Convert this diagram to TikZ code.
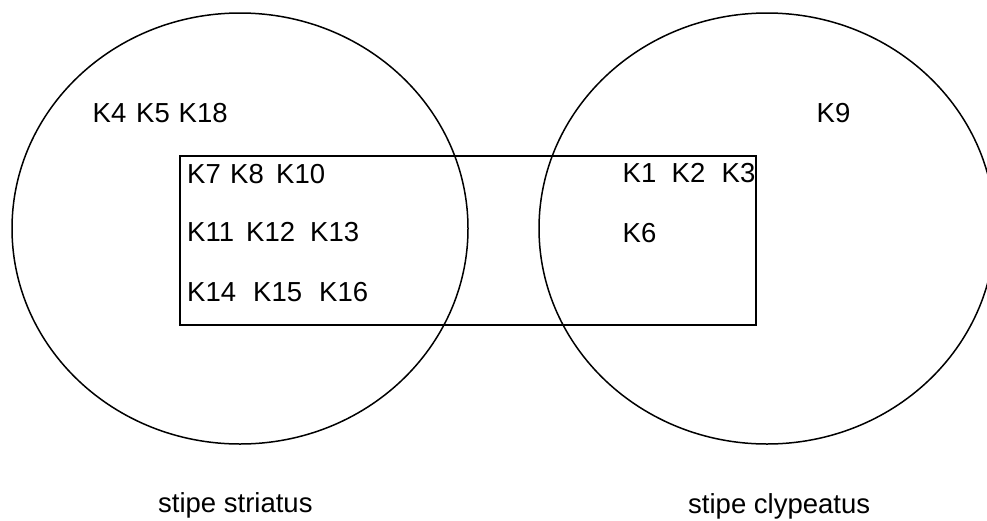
\documentclass[tikz,border=0pt]{standalone}
\usepackage{fontspec}
\setmainfont{Liberation Sans}
\usetikzlibrary{shapes.geometric}
\begin{document}
\begin{tikzpicture}[x=1pt,y=-1pt,
  setline/.style={draw=black,line width=1.5pt},
  setring/.style={setline,ellipse,inner sep=0pt,minimum width=456pt,minimum height=431pt},
  code/.style={anchor=base west,inner sep=0pt,font=\fontsize{27.5}{33}\selectfont},
  caption/.style={code}]
\useasboundingbox (0,0) rectangle (987,520);

% the two stipe groups
\node[setring] (striatus) at (240,228.5) {};
\node[setring] (clypeatus) at (767,228.5) {};
% shared block
\draw[setline] (180,156) rectangle (756,325);

% codes only in the striatus group
\node[code] (k4) at (92.5,122) {K4};
\node[code] (k5) at (136,122) {K5};
\node[code] (k18) at (178.5,122) {K18};

% codes in the block, striatus side
\node[code] (k7) at (187,183) {K7};
\node[code] (k8) at (230,183) {K8};
\node[code] (k10) at (276,183) {K10};
\node[code] (k11) at (187,241) {K11};
\node[code] (k12) at (246,241) {K12};
\node[code] (k13) at (310,241) {K13};
\node[code] (k14) at (187,301) {K14};
\node[code] (k15) at (253,301) {K15};
\node[code] (k16) at (319,301) {K16};

% codes in the block, clypeatus side
\node[code] (k1) at (622.5,182) {K1};
\node[code] (k2) at (671.5,182) {K2};
\node[code] (k3) at (721.5,182) {K3};
\node[code] (k6) at (622.5,242) {K6};

% codes only in the clypeatus group
\node[code] (k9) at (816.5,122) {K9};

% group names
\node[caption] (nstriatus) at (158,512.5) {stipe striatus};
\node[caption] (nclypeatus) at (688,513) {stipe clypeatus};
\end{tikzpicture}
\end{document}
